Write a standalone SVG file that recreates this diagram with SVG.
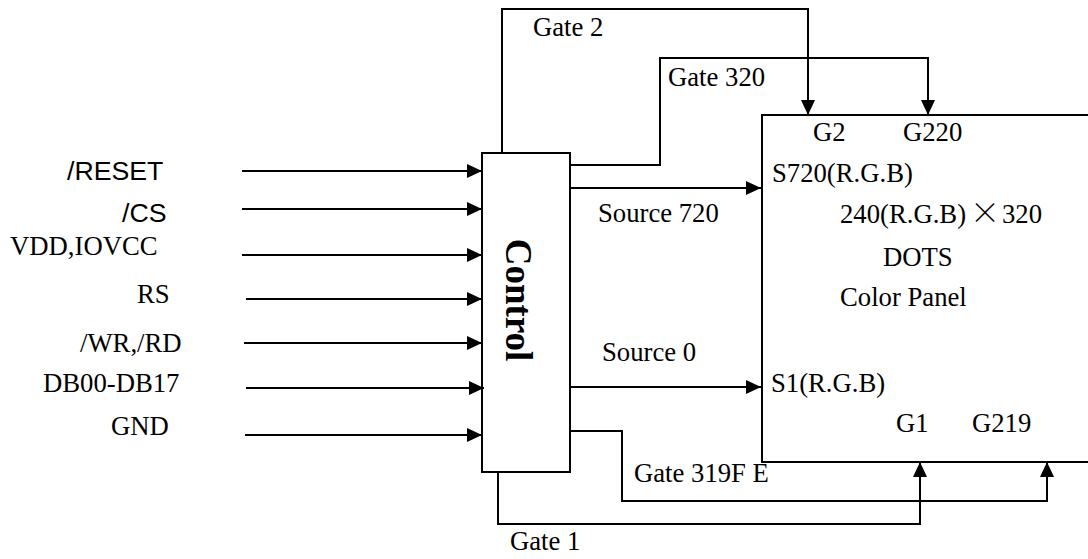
<svg xmlns="http://www.w3.org/2000/svg" width="1088" height="559" viewBox="0 0 1088 559">
<style>
.ln{fill:none;stroke:#000;stroke-width:2}
.box{fill:#fff;stroke:#000;stroke-width:2}
.t{font-family:"Liberation Serif","Times New Roman",serif;font-size:26.7px;fill:#000}
.s{font-family:"Liberation Sans",Arial,sans-serif;font-size:26.7px;fill:#000}
.b{font-family:"Liberation Serif","Times New Roman",serif;font-size:37px;font-weight:bold;fill:#000}
.cjk{font-family:"Noto Sans CJK SC",sans-serif;font-size:30px;font-weight:300}
</style>
<defs>
<marker id="ah" markerUnits="userSpaceOnUse" markerWidth="16" markerHeight="14" refX="15" refY="7" orient="auto">
<path d="M0,0 L15,7 L0,14 z" fill="#000"/>
</marker>
</defs>
<g id="panel">
<rect class="box" x="762" y="115" width="340" height="347"/>
<text class="t" x="813" y="141">G2</text>
<text class="t" x="903" y="141">G220</text>
<text class="t" x="772" y="182">S720(R.G.B)</text>
<text class="t" x="840" y="223">240(R.G.B)<tspan class="cjk" x="970">×</tspan><tspan x="1002">320</tspan></text>
<text class="t" x="883" y="266">DOTS</text>
<text class="t" x="840" y="306">Color Panel</text>
<text class="t" x="771" y="392">S1(R.G.B)</text>
<text class="t" x="896" y="432">G1</text>
<text class="t" x="972" y="432">G219</text>
</g>
<g id="control">
<rect class="box" x="482" y="153" width="88" height="319"/>
<text class="b" x="300" y="-506" transform="rotate(90)" text-anchor="middle">Control</text>
</g>
<g id="inputs">
<text class="s" x="67" y="180">/RESET</text>
<text class="s" x="122" y="222">/CS</text>
<text class="t" x="10" y="255">VDD,IOVCC</text>
<text class="t" x="137" y="303">RS</text>
<text class="t" x="80" y="352">/WR,/RD</text>
<text class="t" x="43" y="392">DB00-DB17</text>
<text class="t" x="111" y="435">GND</text>
</g>
<g id="connectors">
<path class="ln" d="M242,171 H482" marker-end="url(#ah)"/>
<path class="ln" d="M242,209 H482" marker-end="url(#ah)"/>
<path class="ln" d="M242,255 H482" marker-end="url(#ah)"/>
<path class="ln" d="M246,299 H482" marker-end="url(#ah)"/>
<path class="ln" d="M244,343 H482" marker-end="url(#ah)"/>
<path class="ln" d="M246,388 H484" marker-end="url(#ah)"/>
<path class="ln" d="M245,435 H482" marker-end="url(#ah)"/>
<path class="ln" d="M502,153 V9 H808 V115" marker-end="url(#ah)"/>
<path class="ln" d="M570,165 H660 V58 H928 V115" marker-end="url(#ah)"/>
<path class="ln" d="M570,188 H761" marker-end="url(#ah)"/>
<path class="ln" d="M570,387 H761" marker-end="url(#ah)"/>
<path class="ln" d="M570,431 H622 V501 H1047 V462" marker-end="url(#ah)"/>
<path class="ln" d="M498,472 V524 H920 V462" marker-end="url(#ah)"/>
<text class="t" x="533" y="36">Gate 2</text>
<text class="t" x="668" y="86">Gate 320</text>
<text class="t" x="598" y="222">Source 720</text>
<text class="t" x="602" y="361">Source 0</text>
<text class="t" x="634" y="482">Gate 319F E</text>
<text class="t" x="510" y="550">Gate 1</text>
</g>
</svg>
